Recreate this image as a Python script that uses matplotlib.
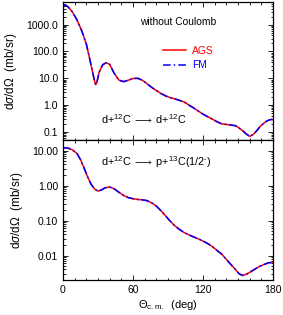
import matplotlib
matplotlib.use("Agg")
import matplotlib.pyplot as plt
from matplotlib.ticker import FixedLocator, FixedFormatter, LogLocator, MultipleLocator, NullFormatter

plt.rcParams['font.family'] = ['Liberation Sans', 'DejaVu Sans']
plt.rcParams['mathtext.fontset'] = 'custom'
plt.rcParams['mathtext.rm'] = 'Liberation Sans'
plt.rcParams['mathtext.it'] = 'Liberation Sans:italic'

# d + 12C elastic
theta_el = [0, 4, 8, 12, 16, 20, 23, 25, 27, 28, 29, 31, 34, 37, 40, 44, 48, 52, 56, 60,
            64, 68, 72, 76, 80, 84, 88, 92, 96, 100, 104, 108, 112, 116, 120, 124, 128,
            132, 136, 140, 144, 148, 151, 154, 157, 160, 163, 166, 169, 172, 175, 178, 180]
ags_el = [5500, 4800, 3000, 1500, 600, 190, 50, 20, 8, 5.8, 7, 17, 32, 38, 33, 15, 8.5, 7.5,
          8.5, 9.8, 10, 8.5, 6.3, 4.6, 3.5, 2.7, 2.2, 1.9, 1.7, 1.5, 1.3, 1.0, 0.78, 0.6,
          0.46, 0.37, 0.3, 0.24, 0.2, 0.19, 0.18, 0.17, 0.14, 0.11, 0.085, 0.068, 0.08,
          0.11, 0.16, 0.21, 0.26, 0.29, 0.29]
fm_el = list(ags_el)

# d + 12C -> p + 13C(1/2-)
theta_tr = [0, 4, 8, 12, 15, 18, 21, 24, 27, 30, 33, 36, 40, 44, 48, 52, 56, 60, 64, 68,
            72, 76, 80, 84, 88, 92, 96, 100, 104, 108, 112, 116, 120, 124, 128, 132, 136,
            140, 144, 148, 151, 154, 157, 160, 164, 168, 172, 176, 180]
ags_tr = [12, 11.8, 10.5, 8.2, 5.5, 3.2, 1.8, 1.1, 0.8, 0.69, 0.75, 0.86, 0.91, 0.8, 0.64,
          0.52, 0.45, 0.42, 0.4, 0.39, 0.37, 0.32, 0.26, 0.19, 0.135, 0.095, 0.07, 0.055,
          0.045, 0.039, 0.034, 0.03, 0.026, 0.022, 0.018, 0.014, 0.011, 0.0078, 0.0055,
          0.0039, 0.003, 0.0027, 0.0029, 0.0033, 0.004, 0.0048, 0.0055, 0.0062, 0.0064]
fm_tr = list(ags_tr)

top_ticks = [0.1, 1, 10, 100, 1000]
top_labels = ['0.1', '1.0', '10.0', '100.0', '1000.0']
bot_ticks = [0.01, 0.1, 1, 10]
bot_labels = ['0.01', '0.10', '1.00', '10.00']
x_ticks = [0, 60, 120, 180]

fig = plt.figure(figsize=(2.83, 3.15), dpi=100)
left, width = 63 / 283, 210 / 283
ax1 = fig.add_axes([left, 1 - 140 / 315, width, 138 / 315])
ax2 = fig.add_axes([left, 1 - 280 / 315, width, 140 / 315])

fs = 7.5
tfs = 7.4
for ax in (ax1, ax2):
    ax.set_yscale('log')
    ax.set_xlim(0, 180)
    ax.xaxis.set_major_locator(FixedLocator(x_ticks))
    ax.xaxis.set_minor_locator(MultipleLocator(10))
    ax.yaxis.set_minor_locator(LogLocator(base=10, subs=range(2, 10), numticks=20))
    ax.yaxis.set_minor_formatter(NullFormatter())
    ax.tick_params(which='both', direction='in', top=True, right=True, labelsize=fs,
                   width=0.6, colors='black')
    ax.tick_params(which='major', length=3.5)
    ax.tick_params(which='minor', length=1.8)
    for s in ax.spines.values():
        s.set_linewidth(0.9)
    ax.set_ylabel(r'd$\sigma$/d$\Omega$  (mb/sr)', fontsize=8.5, labelpad=5)

ax1.plot(theta_el, ags_el, color='red', lw=1.1, label='AGS')
ax1.plot(theta_el, fm_el, color='blue', lw=1.1, ls=(0, (5, 2, 1, 2)), label='FM')
ax1.set_ylim(0.05, 7000)
ax1.yaxis.set_major_locator(FixedLocator(top_ticks))
ax1.yaxis.set_major_formatter(FixedFormatter(top_labels))
ax1.tick_params(labelbottom=False)
ax1.text(0.55, 0.855, 'without Coulomb', transform=ax1.transAxes, ha='center', va='center',
         fontsize=tfs)
leg = ax1.legend(loc='upper left', bbox_to_anchor=(0.45, 0.72), frameon=False,
                 fontsize=tfs, handlelength=2.3, handletextpad=0.6,
                 labelspacing=0.45, borderpad=0)
for t, c in zip(leg.get_texts(), ['red', 'blue']):
    t.set_color(c)
ax1.text(0.18, 0.155, r'd+$^{12}$C$\;\longrightarrow\;$d+$^{12}$C', transform=ax1.transAxes,
         ha='left', va='center', fontsize=tfs + 0.4)

ax2.plot(theta_tr, ags_tr, color='red', lw=1.1)
ax2.plot(theta_tr, fm_tr, color='blue', lw=1.1, ls=(0, (5, 2, 1, 2)))
ax2.set_ylim(0.002, 20)
ax2.yaxis.set_major_locator(FixedLocator(bot_ticks))
ax2.yaxis.set_major_formatter(FixedFormatter(bot_labels))
ax2.xaxis.set_major_formatter(FixedFormatter([str(v) for v in x_ticks]))
ax2.text(0.18, 0.84, r'd+$^{12}$C$\;\longrightarrow\;$p+$^{13}$C(1/2$^{\text{-}}$)',
         transform=ax2.transAxes, ha='left', va='center', fontsize=tfs + 0.4)
ax2.set_xlabel(r'$\Theta_{\rm c.m.}$  (deg)', fontsize=fs + 0.5, labelpad=2)

fig.savefig('out.png', dpi=100)
